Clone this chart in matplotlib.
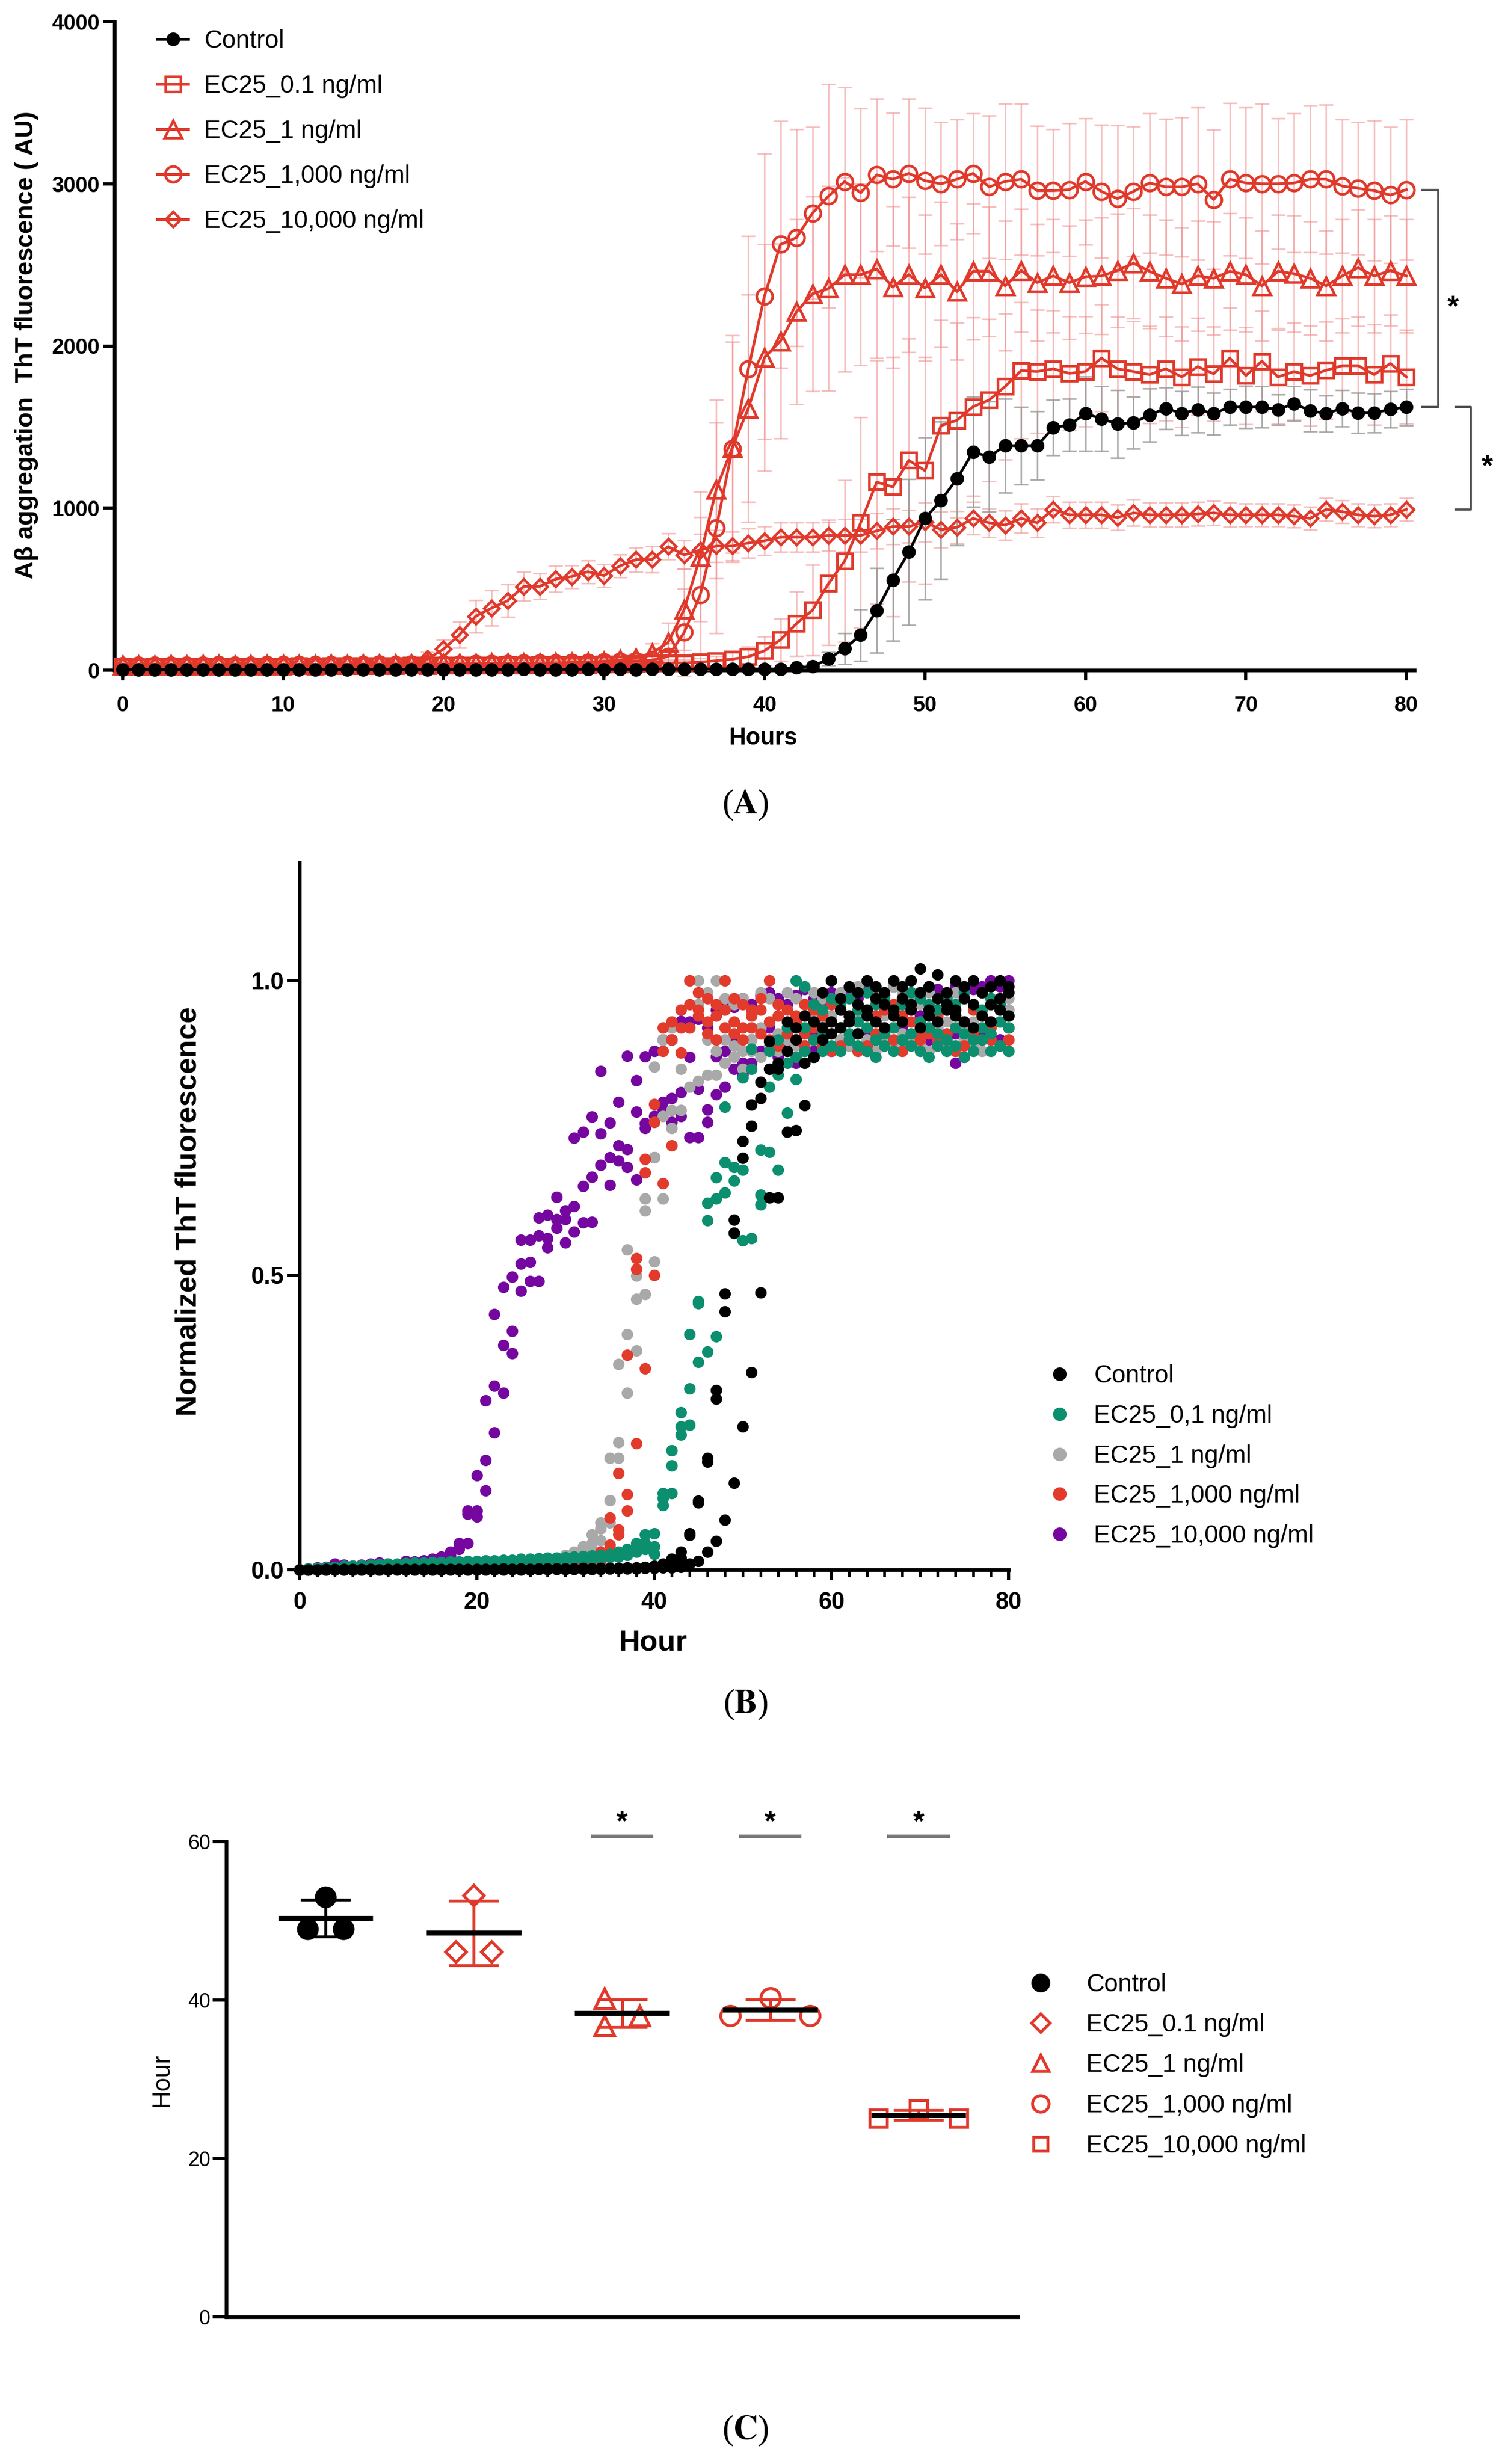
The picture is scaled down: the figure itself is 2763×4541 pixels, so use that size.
import numpy as np
import matplotlib
matplotlib.use("Agg")
import matplotlib.pyplot as plt
from matplotlib.lines import Line2D
from matplotlib.ticker import MultipleLocator, FormatStrFormatter

plt.rcParams['font.family'] = ['Liberation Sans', 'DejaVu Sans']
plt.rcParams['mathtext.fontset'] = 'stix'

# ====================== DATA ======================
hours = np.arange(0, 81)

# ---- Panel A: ThT fluorescence (AU), mean and SD per hour ----
a_labels = ["Control", "EC25_0.1 ng/ml", "EC25_1 ng/ml", "EC25_1,000 ng/ml", "EC25_10,000 ng/ml"]

a_control = [4, 3, 5, 4, 3, 4, 5, 4, 3, 4,
             5, 4, 3, 4, 5, 4, 3, 4, 5, 4,
             3, 4, 5, 4, 5, 6, 5, 4, 5, 6,
             5, 6, 5, 6, 7, 6, 7, 8, 7, 8,
             6, 8, 17, 22, 70, 133, 216, 368, 557, 729,
             936, 1047, 1180, 1346, 1316, 1385, 1385, 1385, 1496, 1512,
             1582, 1551, 1518, 1526, 1573, 1615, 1584, 1607, 1582, 1623,
             1623, 1623, 1607, 1643, 1601, 1582, 1615, 1587, 1587, 1609,
             1623]
a_control_sd = [5, 5, 5, 5, 5, 5, 5, 5, 5, 5,
                5, 5, 5, 5, 5, 5, 5, 5, 5, 5,
                5, 5, 5, 5, 5, 5, 5, 5, 5, 5,
                5, 5, 5, 5, 5, 5, 5, 6, 6, 6,
                6, 8, 10, 15, 40, 95, 160, 260, 375, 450,
                500, 485, 410, 340, 340, 290, 240, 210, 170, 160,
                230, 200, 210, 160, 165, 130, 135, 140, 130, 110,
                130, 128, 95, 107, 128, 113, 113, 123, 120, 113,
                112]

a_ec01 = [22, 21, 23, 22, 24, 23, 22, 24, 25, 24,
          25, 26, 25, 27, 26, 28, 27, 28, 29, 28,
          30, 29, 31, 30, 32, 31, 33, 32, 34, 35,
          36, 38, 40, 42, 44, 45, 50, 58, 68, 83,
          119, 187, 287, 370, 535, 673, 910, 1160, 1130, 1294,
          1231, 1508, 1541, 1625, 1666, 1750, 1848, 1842, 1859, 1831,
          1842, 1925, 1859, 1842, 1823, 1859, 1809, 1872, 1828, 1925,
          1817, 1906, 1809, 1842, 1817, 1850, 1878, 1878, 1823, 1892,
          1809]
a_ec01_sd = [12, 12, 12, 12, 12, 12, 12, 12, 12, 12,
             12, 12, 12, 12, 12, 12, 12, 12, 12, 12,
             14, 14, 14, 14, 14, 14, 14, 14, 14, 14,
             15, 16, 17, 18, 19, 20, 25, 30, 40, 60,
             90, 130, 200, 280, 380, 500, 650, 750, 800, 750,
             700, 650, 600, 550, 500, 450, 420, 380, 360, 350,
             340, 330, 320, 310, 300, 320, 310, 300, 290, 310,
             300, 310, 290, 300, 310, 300, 290, 300, 310, 300,
             290]

a_ec1 = [30, 31, 30, 32, 31, 33, 32, 31, 33, 34,
         33, 35, 34, 36, 35, 37, 36, 38, 37, 39,
         38, 40, 41, 42, 43, 44, 45, 46, 48, 50,
         55, 62, 75, 105, 170, 375, 700, 1116, 1374, 1615,
         1928, 2030, 2211, 2321, 2355, 2440, 2440, 2474, 2363, 2440,
         2357, 2440, 2335, 2460, 2460, 2371, 2465, 2391, 2432, 2391,
         2427, 2432, 2465, 2510, 2460, 2418, 2382, 2432, 2418, 2460,
         2440, 2371, 2460, 2446, 2418, 2371, 2432, 2482, 2432, 2465,
         2432]
a_ec1_sd = [20, 20, 20, 20, 20, 20, 20, 20, 20, 20,
            20, 20, 20, 20, 20, 20, 20, 20, 20, 20,
            20, 20, 20, 20, 20, 20, 20, 20, 20, 20,
            22, 25, 30, 60, 120, 250, 400, 550, 650, 700,
            700, 600, 570, 600, 630, 600, 560, 550, 500, 480,
            450, 450, 420, 420, 400, 400, 380, 360, 350, 350,
            350, 360, 350, 340, 350, 360, 350, 340, 350, 360,
            350, 340, 350, 360, 350, 340, 350, 360, 350, 340,
            350]

a_ec1000 = [28, 29, 30, 29, 31, 30, 32, 31, 30, 32,
            33, 32, 34, 33, 35, 34, 36, 35, 37, 36,
            38, 37, 39, 40, 41, 42, 43, 44, 46, 47,
            50, 53, 57, 62, 84, 233, 465, 877, 1366, 1859,
            2307, 2626, 2668, 2820, 2925, 3014, 2945, 3055, 3028, 3064,
            3019, 3000, 3028, 3064, 2981, 3014, 3028, 2958, 2958, 2964,
            3014, 2953, 2909, 2953, 3005, 2981, 2981, 3000, 2903, 3028,
            3005, 3000, 3000, 3005, 3028, 3028, 2986, 2972, 2958, 2931,
            2964]
a_ec1000_sd = [20, 20, 20, 20, 20, 20, 20, 20, 20, 20,
               20, 20, 20, 20, 20, 20, 20, 20, 20, 20,
               20, 20, 20, 20, 20, 20, 20, 20, 20, 20,
               20, 22, 25, 40, 80, 270, 480, 650, 700, 820,
               880, 760, 670, 530, 690, 580, 520, 470, 410, 460,
               450, 380, 370, 370, 440, 480, 466, 400, 380, 410,
               390, 410, 450, 400, 430, 420, 430, 470, 430, 470,
               465, 494, 404, 429, 452, 460, 412, 408, 432, 419,
               434]

a_ec10000 = [25, 26, 25, 27, 26, 28, 27, 26, 28, 29,
             28, 30, 29, 31, 30, 32, 33, 35, 40, 69,
             129, 218, 332, 383, 428, 517, 517, 562, 577, 607,
             583, 643, 682, 682, 762, 711, 741, 765, 765, 784,
             798, 820, 820, 820, 831, 831, 831, 859, 886, 886,
             914, 867, 881, 936, 909, 895, 936, 909, 992, 958,
             958, 958, 942, 970, 958, 958, 958, 964, 970, 958,
             958, 958, 958, 950, 936, 992, 978, 958, 950, 958,
             992]
a_ec10000_sd = [10, 10, 10, 10, 10, 10, 10, 10, 10, 10,
                10, 10, 10, 10, 10, 10, 12, 14, 20, 40,
                60, 80, 100, 110, 100, 90, 80, 80, 70, 70,
                70, 70, 75, 80, 80, 90, 100, 100, 90, 90,
                90, 90, 90, 90, 95, 100, 100, 110, 110, 100,
                120, 110, 100, 100, 90, 90, 90, 90, 80, 80,
                80, 80, 80, 80, 75, 75, 75, 75, 75, 75,
                70, 70, 70, 70, 70, 70, 70, 70, 70, 70,
                70]

# ---- Panel B: normalized ThT fluorescence, three replicates per group ----
b_labels = ["Control", "EC25_0,1 ng/ml", "EC25_1 ng/ml", "EC25_1,000 ng/ml", "EC25_10,000 ng/ml"]

b_control_r1 = [0.000, 0.000, 0.000, 0.001, 0.000, 0.001, 0.000, 0.001, 0.001, 0.000,
                0.001, 0.001, 0.000, 0.001, 0.001, 0.001, 0.000, 0.001, 0.001, 0.001,
                0.001, 0.001, 0.001, 0.002, 0.001, 0.002, 0.001, 0.002, 0.002, 0.002,
                0.002, 0.002, 0.003, 0.002, 0.003, 0.003, 0.003, 0.004, 0.004, 0.005,
                0.006, 0.010, 0.018, 0.030, 0.062, 0.117, 0.190, 0.305, 0.469, 0.594,
                0.728, 0.789, 0.828, 0.897, 0.860, 0.930, 0.920, 0.940, 0.930, 0.980,
                1.000, 0.970, 0.990, 0.980, 1.000, 0.990, 0.980, 1.000, 0.990, 1.000,
                1.020, 0.990, 1.010, 0.980, 1.000, 0.990, 1.000, 0.980, 0.990, 1.000,
                0.990]
b_control_r2 = [0.000, 0.000, 0.000, 0.000, 0.001, 0.000, 0.000, 0.000, 0.001, 0.000,
                0.000, 0.001, 0.000, 0.000, 0.001, 0.000, 0.001, 0.000, 0.001, 0.000,
                0.001, 0.000, 0.001, 0.001, 0.001, 0.001, 0.001, 0.001, 0.001, 0.002,
                0.001, 0.002, 0.002, 0.002, 0.002, 0.002, 0.003, 0.003, 0.003, 0.004,
                0.005, 0.008, 0.012, 0.020, 0.059, 0.114, 0.183, 0.290, 0.438, 0.572,
                0.699, 0.753, 0.800, 0.850, 0.850, 0.880, 0.900, 0.860, 0.870, 0.920,
                0.930, 0.950, 0.940, 0.960, 0.950, 0.970, 0.960, 0.950, 0.970, 0.960,
                0.980, 0.950, 0.970, 0.960, 0.950, 0.970, 0.960, 0.980, 0.960, 0.970,
                0.980]
b_control_r3 = [0.000, 0.000, 0.000, 0.000, 0.000, 0.000, 0.001, 0.000, 0.000, 0.000,
                0.000, 0.000, 0.001, 0.000, 0.000, 0.000, 0.000, 0.001, 0.000, 0.000,
                0.000, 0.001, 0.000, 0.000, 0.001, 0.000, 0.000, 0.001, 0.001, 0.001,
                0.001, 0.001, 0.001, 0.001, 0.001, 0.002, 0.002, 0.002, 0.002, 0.003,
                0.003, 0.004, 0.004, 0.005, 0.010, 0.015, 0.030, 0.049, 0.085, 0.147,
                0.243, 0.335, 0.471, 0.632, 0.632, 0.743, 0.746, 0.788, 0.870, 0.900,
                0.910, 0.920, 0.930, 0.910, 0.940, 0.930, 0.920, 0.940, 0.930, 0.950,
                0.920, 0.940, 0.930, 0.950, 0.940, 0.930, 0.920, 0.940, 0.930, 0.950,
                0.940]

b_ec01_r1 = [0.000, 0.002, 0.003, 0.004, 0.005, 0.006, 0.006, 0.007, 0.008, 0.009,
             0.010, 0.010, 0.011, 0.012, 0.012, 0.013, 0.013, 0.014, 0.014, 0.015,
             0.015, 0.016, 0.016, 0.017, 0.017, 0.018, 0.018, 0.019, 0.020, 0.020,
             0.021, 0.022, 0.023, 0.024, 0.025, 0.027, 0.030, 0.035, 0.045, 0.060,
             0.062, 0.130, 0.203, 0.267, 0.400, 0.456, 0.623, 0.666, 0.786, 0.683,
             0.835, 0.884, 0.713, 0.880, 0.900, 0.920, 1.000, 0.990, 0.960, 0.950,
             0.970, 0.960, 0.970, 0.950, 0.980, 0.960, 0.970, 0.950, 0.960, 0.980,
             0.970, 0.960, 0.950, 0.970, 0.960, 0.980, 0.960, 0.950, 0.970, 0.960,
             0.940]
b_ec01_r2 = [0.000, 0.001, 0.002, 0.003, 0.004, 0.005, 0.005, 0.006, 0.007, 0.008,
             0.008, 0.009, 0.010, 0.010, 0.011, 0.011, 0.012, 0.012, 0.013, 0.013,
             0.014, 0.014, 0.015, 0.015, 0.016, 0.016, 0.017, 0.017, 0.018, 0.018,
             0.019, 0.020, 0.021, 0.022, 0.023, 0.024, 0.026, 0.030, 0.035, 0.045,
             0.040, 0.122, 0.177, 0.243, 0.308, 0.452, 0.593, 0.630, 0.692, 0.660,
             0.679, 0.850, 0.636, 0.709, 0.679, 0.775, 0.833, 0.920, 0.900, 0.910,
             0.930, 0.920, 0.910, 0.930, 0.920, 0.900, 0.910, 0.920, 0.900, 0.910,
             0.930, 0.920, 0.910, 0.900, 0.920, 0.910, 0.900, 0.920, 0.910, 0.930,
             0.920]
b_ec01_r3 = [0.000, 0.001, 0.001, 0.002, 0.003, 0.003, 0.004, 0.005, 0.005, 0.006,
             0.007, 0.007, 0.008, 0.008, 0.009, 0.009, 0.010, 0.010, 0.011, 0.011,
             0.012, 0.012, 0.013, 0.013, 0.014, 0.014, 0.015, 0.015, 0.016, 0.016,
             0.017, 0.018, 0.018, 0.019, 0.020, 0.021, 0.022, 0.025, 0.030, 0.035,
             0.027, 0.110, 0.130, 0.229, 0.246, 0.353, 0.370, 0.396, 0.640, 0.571,
             0.559, 0.563, 0.620, 0.820, 0.840, 0.860, 0.870, 0.880, 0.870, 0.880,
             0.890, 0.880, 0.900, 0.890, 0.880, 0.870, 0.890, 0.880, 0.900, 0.890,
             0.880, 0.870, 0.890, 0.880, 0.890, 0.870, 0.880, 0.900, 0.880, 0.890,
             0.880]

b_ec1_r1 = [0.000, 0.001, 0.002, 0.002, 0.003, 0.004, 0.004, 0.005, 0.005, 0.006,
            0.006, 0.007, 0.007, 0.008, 0.008, 0.009, 0.009, 0.010, 0.010, 0.011,
            0.011, 0.012, 0.012, 0.013, 0.014, 0.015, 0.016, 0.017, 0.018, 0.020,
            0.025, 0.030, 0.040, 0.060, 0.080, 0.190, 0.349, 0.543, 0.499, 0.630,
            0.854, 0.900, 0.920, 0.950, 1.000, 1.000, 0.980, 1.000, 0.970, 0.960,
            0.970, 0.950, 0.980, 0.970, 0.960, 0.980, 0.970, 0.960, 0.980, 0.970,
            0.960, 0.980, 0.970, 0.990, 1.000, 0.980, 0.970, 0.990, 0.980, 0.970,
            0.960, 0.980, 0.970, 0.960, 0.980, 0.970, 0.960, 0.980, 0.970, 0.960,
            0.970]
b_ec1_r2 = [0.000, 0.001, 0.001, 0.002, 0.002, 0.003, 0.003, 0.004, 0.004, 0.005,
            0.005, 0.006, 0.006, 0.007, 0.007, 0.008, 0.008, 0.009, 0.009, 0.010,
            0.010, 0.011, 0.011, 0.012, 0.012, 0.013, 0.014, 0.015, 0.016, 0.017,
            0.020, 0.025, 0.030, 0.045, 0.070, 0.118, 0.216, 0.400, 0.460, 0.610,
            0.700, 0.770, 0.780, 0.850, 0.920, 0.960, 0.900, 0.880, 0.900, 0.890,
            0.880, 0.900, 0.920, 0.930, 0.910, 0.920, 0.930, 0.920, 0.940, 0.930,
            0.940, 0.950, 0.930, 0.940, 0.950, 0.930, 0.940, 0.920, 0.940, 0.950,
            0.930, 0.940, 0.920, 0.930, 0.940, 0.920, 0.930, 0.940, 0.920, 0.930,
            0.950]
b_ec1_r3 = [0.000, 0.000, 0.001, 0.001, 0.002, 0.002, 0.002, 0.003, 0.003, 0.004,
            0.004, 0.005, 0.005, 0.006, 0.006, 0.007, 0.007, 0.008, 0.008, 0.009,
            0.009, 0.010, 0.010, 0.011, 0.011, 0.012, 0.012, 0.013, 0.014, 0.015,
            0.017, 0.020, 0.025, 0.035, 0.050, 0.080, 0.190, 0.300, 0.372, 0.468,
            0.523, 0.630, 0.750, 0.780, 0.820, 0.830, 0.840, 0.840, 0.860, 0.870,
            0.850, 0.880, 0.870, 0.890, 0.880, 0.900, 0.890, 0.880, 0.900, 0.890,
            0.910, 0.900, 0.890, 0.910, 0.900, 0.880, 0.900, 0.890, 0.910, 0.900,
            0.890, 0.880, 0.900, 0.890, 0.880, 0.900, 0.890, 0.880, 0.900, 0.890,
            0.880]

b_ec1000_r1 = [0.000, 0.000, 0.001, 0.000, 0.001, 0.001, 0.000, 0.001, 0.002, 0.001,
               0.002, 0.001, 0.002, 0.002, 0.001, 0.002, 0.003, 0.002, 0.003, 0.002,
               0.003, 0.003, 0.002, 0.003, 0.004, 0.003, 0.004, 0.004, 0.005, 0.004,
               0.005, 0.006, 0.008, 0.012, 0.030, 0.088, 0.164, 0.365, 0.529, 0.697,
               0.790, 0.920, 0.930, 0.950, 1.000, 0.980, 0.970, 0.960, 1.000, 0.970,
               0.960, 0.950, 0.970, 1.000, 0.960, 0.950, 0.940, 0.960, 0.950, 0.940,
               0.960, 0.950, 0.940, 0.960, 0.950, 0.940, 0.950, 0.960, 0.940, 0.950,
               0.930, 0.950, 0.940, 0.960, 0.950, 0.930, 0.950, 0.940, 0.960, 0.950,
               0.940]
b_ec1000_r2 = [0.000, 0.000, 0.000, 0.001, 0.000, 0.001, 0.001, 0.000, 0.001, 0.001,
               0.001, 0.002, 0.001, 0.001, 0.002, 0.001, 0.002, 0.002, 0.002, 0.003,
               0.002, 0.002, 0.003, 0.002, 0.003, 0.003, 0.003, 0.004, 0.003, 0.004,
               0.004, 0.005, 0.006, 0.009, 0.020, 0.042, 0.068, 0.128, 0.510, 0.674,
               0.760, 0.880, 0.900, 0.920, 0.960, 0.950, 0.930, 0.940, 0.950, 0.930,
               0.920, 0.940, 0.950, 0.930, 0.940, 0.920, 0.930, 0.910, 0.920, 0.900,
               0.910, 0.920, 0.900, 0.910, 0.920, 0.900, 0.910, 0.920, 0.900, 0.930,
               0.910, 0.920, 0.900, 0.910, 0.920, 0.930, 0.910, 0.920, 0.900, 0.930,
               0.920]
b_ec1000_r3 = [0.000, 0.000, 0.000, 0.000, 0.001, 0.000, 0.000, 0.001, 0.000, 0.001,
               0.001, 0.001, 0.000, 0.001, 0.001, 0.002, 0.001, 0.001, 0.002, 0.002,
               0.002, 0.001, 0.002, 0.002, 0.002, 0.003, 0.002, 0.003, 0.003, 0.003,
               0.003, 0.004, 0.005, 0.007, 0.010, 0.030, 0.060, 0.100, 0.215, 0.342,
               0.500, 0.656, 0.720, 0.878, 0.920, 0.940, 0.910, 0.900, 0.920, 0.910,
               0.900, 0.920, 0.910, 0.900, 0.890, 0.910, 0.900, 0.890, 0.900, 0.890,
               0.880, 0.890, 0.900, 0.880, 0.890, 0.910, 0.890, 0.900, 0.880, 0.890,
               0.900, 0.910, 0.890, 0.900, 0.880, 0.890, 0.910, 0.900, 0.920, 0.890,
               0.900]

b_ec10000_r1 = [0.000, 0.002, 0.004, 0.005, 0.010, 0.008, 0.006, 0.008, 0.010, 0.012,
                0.010, 0.009, 0.015, 0.014, 0.016, 0.018, 0.022, 0.030, 0.045, 0.100,
                0.160, 0.287, 0.434, 0.480, 0.497, 0.560, 0.560, 0.598, 0.602, 0.633,
                0.610, 0.733, 0.743, 0.769, 0.846, 0.759, 0.794, 0.872, 0.831, 0.871,
                0.880, 0.900, 0.900, 0.931, 0.930, 0.935, 0.920, 0.950, 0.960, 0.955,
                0.970, 0.960, 0.975, 0.980, 0.970, 0.960, 0.975, 0.985, 0.970, 0.965,
                0.980, 0.975, 0.985, 0.970, 0.990, 0.980, 0.975, 0.990, 0.985, 0.970,
                0.980, 0.990, 0.985, 0.975, 0.990, 0.980, 0.985, 0.990, 1.000, 0.990,
                1.000]
b_ec10000_r2 = [0.000, 0.001, 0.002, 0.003, 0.008, 0.005, 0.004, 0.006, 0.007, 0.009,
                0.008, 0.007, 0.011, 0.010, 0.012, 0.014, 0.018, 0.024, 0.040, 0.095,
                0.100, 0.186, 0.312, 0.381, 0.405, 0.519, 0.522, 0.567, 0.563, 0.595,
                0.595, 0.617, 0.651, 0.667, 0.740, 0.700, 0.720, 0.714, 0.777, 0.758,
                0.770, 0.794, 0.800, 0.810, 0.870, 0.816, 0.781, 0.871, 0.880, 0.900,
                0.860, 0.900, 0.880, 0.920, 0.900, 0.890, 0.930, 0.880, 0.910, 0.900,
                0.930, 0.920, 0.900, 0.940, 0.910, 0.930, 0.920, 0.950, 0.930, 0.900,
                0.940, 0.920, 0.930, 0.950, 0.860, 0.870, 0.920, 0.940, 0.930, 0.950,
                0.940]
b_ec10000_r3 = [0.000, 0.000, 0.001, 0.002, 0.004, 0.003, 0.003, 0.004, 0.005, 0.006,
                0.005, 0.005, 0.008, 0.008, 0.010, 0.010, 0.015, 0.020, 0.035, 0.045,
                0.090, 0.134, 0.233, 0.300, 0.367, 0.473, 0.490, 0.490, 0.547, 0.580,
                0.555, 0.574, 0.589, 0.590, 0.687, 0.653, 0.694, 0.683, 0.662, 0.750,
                0.700, 0.780, 0.760, 0.770, 0.734, 0.734, 0.760, 0.807, 0.820, 0.850,
                0.840, 0.860, 0.880, 0.850, 0.870, 0.880, 0.860, 0.890, 0.880, 0.890,
                0.880, 0.900, 0.890, 0.910, 0.880, 0.900, 0.910, 0.890, 0.920, 0.900,
                0.910, 0.900, 0.920, 0.890, 0.910, 0.900, 0.920, 0.910, 0.930, 0.900,
                0.920]

# ---- Panel C: time (hour) per replicate ----
c_labels = ["Control", "EC25_0.1 ng/ml", "EC25_1 ng/ml", "EC25_1,000 ng/ml", "EC25_10,000 ng/ml"]
c_control = [53.0, 49.0, 49.0]
c_ec01 = [53.2, 46.1, 46.1]
c_ec1 = [40.2, 36.8, 38.0]
c_ec1000 = [38.0, 40.3, 38.0]
c_ec10000 = [25.1, 26.2, 25.1]
c_significant = [False, False, True, True, True]

# ====================== STYLE / LAYOUT ======================
W, H, DPI = 2763, 4541, 300
RED = '#e0392b'
PINK = '#f08f8f'
GREY_ERR = '#9a9a9a'
B_COLORS = {'black': '#000000', 'teal': '#0b8f6f', 'grey': '#a9a9a9',
            'red': '#e23b2c', 'purple': '#75069f'}
LEG_FS = 11

fig = plt.figure(figsize=(W / DPI, H / DPI), dpi=DPI)


def rect(l, t, r, b):
    return [l / W, 1 - b / H, (r - l) / W, (b - t) / H]


def style_axes(ax, lw=1.6):
    for s in ['top', 'right']:
        ax.spines[s].set_visible(False)
    for s in ['left', 'bottom']:
        ax.spines[s].set_linewidth(lw)


# ====================== PANEL A ======================
axA = fig.add_axes(rect(211, 40, 2607, 1235))
axA.set_xlim(-0.5, 80.5)
axA.set_ylim(0, 4000)
style_axes(axA)
axA.set_xticks(range(0, 81, 10))
axA.set_yticks(range(0, 4001, 1000))
axA.tick_params(axis='x', direction='out', length=4.5, width=1.4, labelsize=9.5, pad=6.5)
axA.tick_params(axis='y', direction='out', length=5, width=1.4, labelsize=9.5, pad=1.5)
for lab in axA.get_xticklabels() + axA.get_yticklabels():
    lab.set_fontweight('bold')

series_A = [
    (a_ec10000, a_ec10000_sd, 'D', RED, 'none', 4.8),
    (a_ec1000, a_ec1000_sd, 'o', RED, 'none', 7.0),
    (a_ec1, a_ec1_sd, '^', RED, 'none', 7.8),
    (a_ec01, a_ec01_sd, 's', RED, 'none', 6.5),
]
for vals, sd, mk, col, mfc, ms in series_A:
    axA.errorbar(hours, vals, yerr=sd, fmt='none', ecolor=PINK, elinewidth=0.7,
                 capsize=3.2, capthick=0.7, alpha=0.55, zorder=1, clip_on=False)
axA.errorbar(hours, a_control, yerr=a_control_sd, fmt='none', ecolor=GREY_ERR,
             elinewidth=0.7, capsize=3.2, capthick=0.7, alpha=0.8, zorder=1)
for vals, sd, mk, col, mfc, ms in series_A:
    axA.plot(hours, vals, color=col, lw=1.2, marker=mk, ms=ms, mfc=mfc, mec=col,
             mew=1.15, zorder=3, clip_on=False)
axA.plot(hours, a_control, color='black', lw=1.2, marker='o', ms=5.0, mfc='black',
         mec='black', zorder=4, clip_on=False)

# significance brackets
bc = '#555555'
axA.plot([81.0, 82.0, 82.0, 81.0], [a_ec1000[-1], a_ec1000[-1], a_control[-1], a_control[-1]],
         color=bc, lw=1.0, clip_on=False)
axA.plot([83.1, 84.0, 84.0, 83.1], [a_control[-1], a_control[-1], a_ec10000[-1], a_ec10000[-1]],
         color=bc, lw=1.0, clip_on=False)
axA.text(82.9, (a_ec1000[-1] + a_control[-1]) / 2 - 60, '*', fontsize=13, fontweight='bold',
         ha='center', va='center', clip_on=False)
axA.text(85.05, (a_control[-1] + a_ec10000[-1]) / 2 - 60, '*', fontsize=13, fontweight='bold',
         ha='center', va='center', clip_on=False)

handlesA = [
    Line2D([], [], color='black', lw=1.2, marker='o', ms=5.0, mfc='black'),
    Line2D([], [], color=RED, lw=1.2, marker='s', ms=6.5, mfc='none', mew=1.15),
    Line2D([], [], color=RED, lw=1.2, marker='^', ms=7.8, mfc='none', mew=1.15),
    Line2D([], [], color=RED, lw=1.2, marker='o', ms=7.0, mfc='none', mew=1.15),
    Line2D([], [], color=RED, lw=1.2, marker='D', ms=4.8, mfc='none', mew=1.15),
]
axA.legend(handlesA, a_labels, loc='upper left', bbox_to_anchor=(290 / W, 1 - 54 / H),
           bbox_transform=fig.transFigure, frameon=False, fontsize=LEG_FS, handlelength=1.25,
           handletextpad=0.63, labelspacing=0.85, borderpad=0, borderaxespad=0)

fig.text(49 / W, 1 - 636 / H, "Aβ aggregation  ThT fluorescence ( AU)", rotation=90,
         ha='center', va='center', fontsize=11, fontweight='bold')
fig.text(1406 / W, 1 - 1360 / H, "Hours", ha='center', va='center', fontsize=10.5,
         fontweight='bold')

# ====================== PANEL B ======================
axB = fig.add_axes(rect(552, 1590, 1859, 2893))
axB.set_xlim(0, 80)
axB.set_ylim(0, 1.2)
style_axes(axB)
axB.set_xticks([0, 20, 40, 60, 80])
axB.xaxis.set_minor_locator(MultipleLocator(2))
axB.set_yticks([0.0, 0.5, 1.0])
axB.yaxis.set_major_formatter(FormatStrFormatter('%.1f'))
axB.tick_params(axis='x', which='major', direction='out', length=4.5, width=1.4,
                labelsize=10.5, pad=5)
axB.tick_params(axis='y', which='major', direction='out', length=5.5, width=1.4,
                labelsize=10.5, pad=1.5)
axB.tick_params(which='minor', direction='out', length=3, width=1.2)
for lab in axB.get_xticklabels() + axB.get_yticklabels():
    lab.set_fontweight('bold')

b_series = [
    ('purple', [b_ec10000_r1, b_ec10000_r2, b_ec10000_r3]),
    ('grey', [b_ec1_r1, b_ec1_r2, b_ec1_r3]),
    ('red', [b_ec1000_r1, b_ec1000_r2, b_ec1000_r3]),
    ('teal', [b_ec01_r1, b_ec01_r2, b_ec01_r3]),
    ('black', [b_control_r1, b_control_r2, b_control_r3]),
]
z = 2
for cname, reps in b_series:
    for rep in reps:
        axB.scatter(hours, rep, s=26, color=B_COLORS[cname], linewidths=0, zorder=z,
                    clip_on=False)
    z += 1

handlesB = [Line2D([], [], ls='none', marker='o', ms=5, color=B_COLORS[c])
            for c in ['black', 'teal', 'grey', 'red', 'purple']]
axB.legend(handlesB, b_labels, loc='upper left', bbox_to_anchor=(1930 / W, 1 - 2514 / H),
           bbox_transform=fig.transFigure, frameon=False, fontsize=LEG_FS, handlelength=1.0,
           handletextpad=0.88, labelspacing=0.65, borderpad=0, borderaxespad=0)

fig.text(347 / W, 1 - 2233 / H, "Normalized ThT fluorescence", rotation=90, ha='center',
         va='center', fontsize=13, fontweight='bold')
fig.text(1203 / W, 1 - 3028 / H, "Hour", ha='center', va='center', fontsize=13,
         fontweight='bold')

# ====================== PANEL C ======================
axC = fig.add_axes(rect(417, 3394, 1876, 4270))
axC.set_xlim(-0.67, 4.67)
axC.set_ylim(0, 60)
style_axes(axC)
axC.set_xticks([])
axC.set_yticks([0, 20, 40, 60])
axC.tick_params(direction='out', length=6, width=1.4, labelsize=9, pad=1)

c_data = [c_control, c_ec01, c_ec1, c_ec1000, c_ec10000]
c_markers = ['o', 'D', '^', 'o', 's']
c_ms = [8.3, 6.6, 8.6, 8.6, 7.6]
c_colors = ['black', RED, RED, RED, RED]
c_fill = ['black', 'none', 'none', 'none', 'none']
c_jitter = [[0, -0.12, 0.12], [0, -0.12, 0.12], [-0.12, -0.12, 0.12],
            [-0.27, 0, 0.27], [-0.27, 0, 0.27]]

for i, vals in enumerate(c_data):
    vals = np.asarray(vals)
    m = vals.mean()
    sd = vals.std(ddof=1)
    xs = i + np.asarray(c_jitter[i])
    axC.errorbar(i, m, yerr=sd, fmt='none', ecolor=c_colors[i], elinewidth=1.3,
                 capsize=11, capthick=1.3, zorder=2)
    axC.plot(xs, vals, ls='none', marker=c_markers[i], ms=c_ms[i], mfc=c_fill[i],
             mec=c_colors[i], mew=1.3, zorder=3)
    axC.hlines(m, i - 0.32, i + 0.32, color='black', lw=2.2, zorder=4)
    if c_significant[i]:
        axC.plot([i - 0.2, i + 0.2], [60.7, 60.7], color='#777777', lw=1.5, clip_on=False)
        axC.text(i, 62.3, '*', ha='center', va='center', fontsize=13, fontweight='bold',
                 clip_on=False)

handlesC = [Line2D([], [], ls='none', marker=c_markers[i], ms=c_ms[i] * 0.85, mfc=c_fill[i],
                   mec=c_colors[i], mew=1.3) for i in range(5)]
axC.legend(handlesC, c_labels, loc='upper left', bbox_to_anchor=(1895 / W, 1 - 3636 / H),
           bbox_transform=fig.transFigure, frameon=False, fontsize=LEG_FS, handlelength=1.0,
           handletextpad=1.34, labelspacing=0.66, borderpad=0, borderaxespad=0)

fig.text(298 / W, 1 - 3833 / H, "Hour", rotation=90, ha='center', va='center', fontsize=11)

# ====================== PANEL LABELS ======================
for lab, y in [('A', 1484), ('B', 3142), ('C', 4480)]:
    fig.text(1374 / W, 1 - y / H, '(' + r'$\mathbf{' + lab + '}$' + ')', ha='center',
             va='center', fontsize=15, family=['Liberation Serif', 'DejaVu Serif'])

fig.savefig('out.png', dpi=DPI)
